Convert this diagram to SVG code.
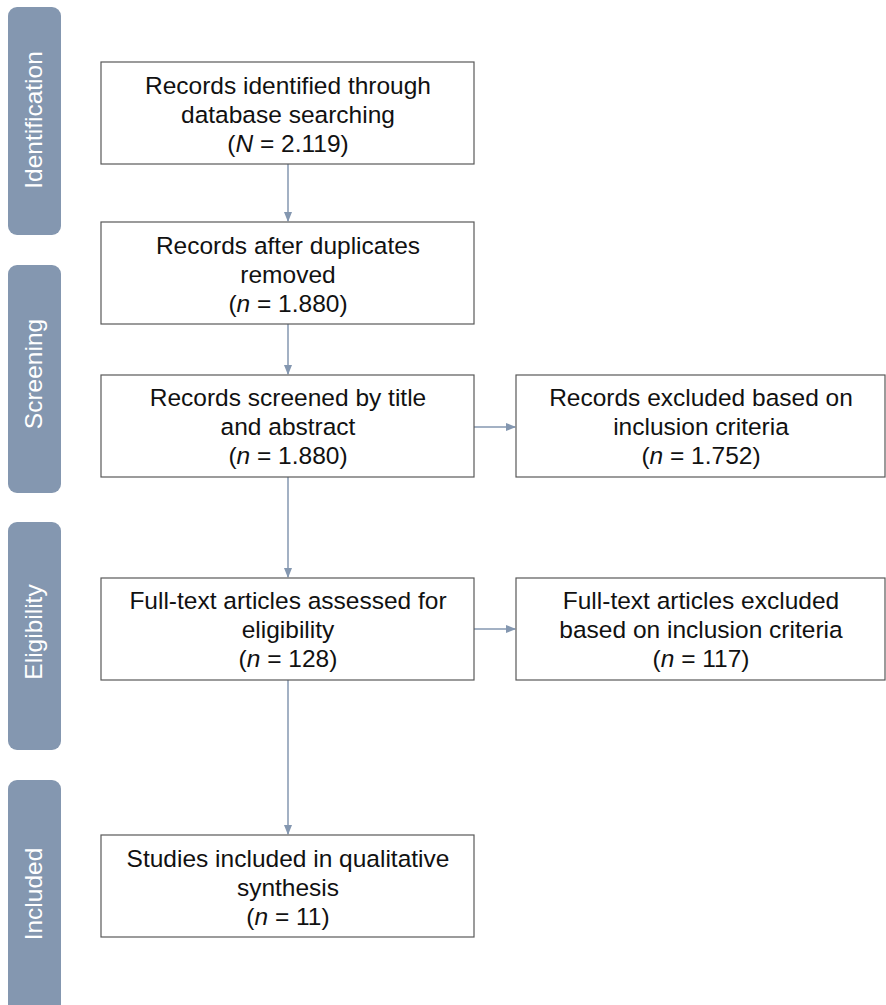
<svg xmlns="http://www.w3.org/2000/svg" width="886" height="1005" viewBox="0 0 886 1005">
<style>
.band{fill:#8497B0}
.bt{fill:#ffffff;font-family:"Liberation Sans",Arial,sans-serif;font-size:24.5px;text-anchor:middle}
.box{fill:#ffffff;stroke:#595959;stroke-width:1.2}
.t{fill:#111111;font-family:"Liberation Sans",Arial,sans-serif;font-size:24.5px;text-anchor:middle}
.c{stroke:#8497B0;stroke-width:1.5;fill:none}
</style>
<defs>
<marker id="ah" markerWidth="10" markerHeight="8" refX="9" refY="4" orient="auto" markerUnits="userSpaceOnUse">
<path d="M0,0 L10,4 L0,8 Z" fill="#8497B0"/>
</marker>
</defs>
<rect width="886" height="1005" fill="#ffffff"/>
<g id="band-identification"><rect class="band" x="8" y="7" width="53" height="228" rx="9"/><text class="bt" transform="translate(42,120) rotate(-90)">Identification</text></g>
<g id="band-screening"><rect class="band" x="8" y="265" width="53" height="228" rx="9"/><text class="bt" transform="translate(42,374) rotate(-90)">Screening</text></g>
<g id="band-eligibility"><rect class="band" x="8" y="522" width="53" height="228" rx="9"/><text class="bt" transform="translate(42,632) rotate(-90)">Eligibility</text></g>
<g id="band-included"><rect class="band" x="8" y="780" width="53" height="240" rx="9"/><text class="bt" transform="translate(42,894) rotate(-90)">Included</text></g>
<g id="connectors">
<line class="c" x1="288" y1="164" x2="288" y2="221" marker-end="url(#ah)"/>
<line class="c" x1="288" y1="324" x2="288" y2="374" marker-end="url(#ah)"/>
<line class="c" x1="288" y1="477" x2="288" y2="577" marker-end="url(#ah)"/>
<line class="c" x1="288" y1="680" x2="288" y2="834" marker-end="url(#ah)"/>
<line class="c" x1="474" y1="427" x2="515" y2="427" marker-end="url(#ah)"/>
<line class="c" x1="474" y1="629" x2="515" y2="629" marker-end="url(#ah)"/>
</g>
<g id="n1"><rect class="box" x="101" y="62" width="373" height="102"/>
<text class="t" x="288" y="94">Records identified through</text>
<text class="t" x="288" y="123">database searching</text>
<text class="t" x="288" y="152">(<tspan font-style="italic">N</tspan> = 2.119)</text></g>
<g id="n2"><rect class="box" x="101" y="222" width="373" height="102"/>
<text class="t" x="288" y="254">Records after duplicates</text>
<text class="t" x="288" y="283">removed</text>
<text class="t" x="288" y="312">(<tspan font-style="italic">n</tspan> = 1.880)</text></g>
<g id="n3"><rect class="box" x="101" y="375" width="373" height="102"/>
<text class="t" x="288" y="406">Records screened by title</text>
<text class="t" x="288" y="435">and abstract</text>
<text class="t" x="288" y="464">(<tspan font-style="italic">n</tspan> = 1.880)</text></g>
<g id="n3x"><rect class="box" x="516" y="375" width="369" height="102"/>
<text class="t" x="701" y="406">Records excluded based on</text>
<text class="t" x="701" y="435">inclusion criteria</text>
<text class="t" x="701" y="464">(<tspan font-style="italic">n</tspan> = 1.752)</text></g>
<g id="n4"><rect class="box" x="101" y="578" width="373" height="102"/>
<text class="t" x="288" y="609">Full-text articles assessed for</text>
<text class="t" x="288" y="638">eligibility</text>
<text class="t" x="288" y="667">(<tspan font-style="italic">n</tspan> = 128)</text></g>
<g id="n4x"><rect class="box" x="516" y="578" width="369" height="102"/>
<text class="t" x="701" y="609">Full-text articles excluded</text>
<text class="t" x="701" y="638">based on inclusion criteria</text>
<text class="t" x="701" y="667">(<tspan font-style="italic">n</tspan> = 117)</text></g>
<g id="n5"><rect class="box" x="101" y="835" width="373" height="102"/>
<text class="t" x="288" y="867">Studies included in qualitative</text>
<text class="t" x="288" y="896">synthesis</text>
<text class="t" x="288" y="925">(<tspan font-style="italic">n</tspan> = 11)</text></g>
</svg>
